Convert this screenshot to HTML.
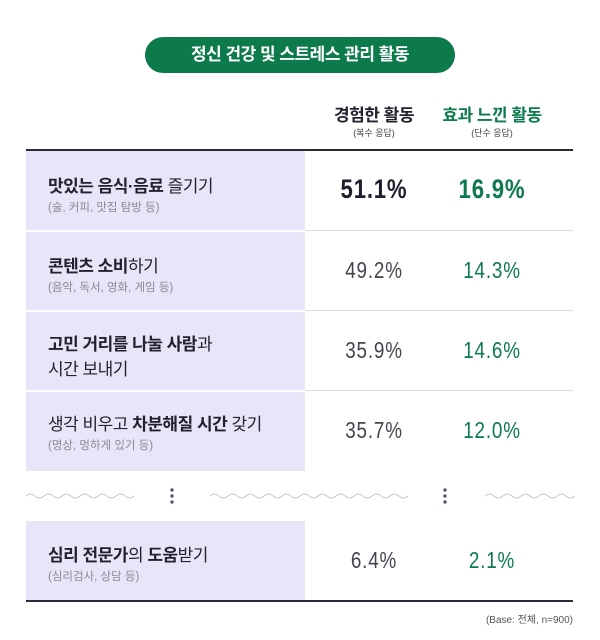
<!DOCTYPE html>
<html><head><meta charset="utf-8">
<style>
body{margin:0;background:#fff;}
#wrap{position:relative;width:600px;height:640px;overflow:hidden;font-family:"Liberation Sans","Noto Sans CJK KR",sans-serif;color:#22222e;}
.abs{position:absolute;}
.pill{left:145px;top:37px;width:310px;height:36px;border-radius:18px;background:#0c7a4a;color:#fff;font-weight:bold;font-size:17px;line-height:36px;text-align:center;letter-spacing:-0.5px;}
.hdr{font-weight:bold;font-size:17px;width:140px;text-align:center;letter-spacing:-0.5px;}
.sub{font-size:9px;width:140px;text-align:center;color:#444;}
.lav{left:26px;width:279px;background:#e7e5f8;}
.sep{left:305px;width:268px;height:1px;background:#dcdce0;}
.lbl{left:48px;font-size:17px;letter-spacing:-0.5px;white-space:nowrap;}
.lbl b{font-weight:bold;}
.note{left:48px;font-size:11.5px;color:#8a8a96;white-space:nowrap;}
.val{width:140px;text-align:center;font-size:23px;letter-spacing:1px;transform:scaleX(0.82);font-family:"Liberation Sans Narrow","Liberation Sans",sans-serif;}
</style></head><body>
<div id="wrap">
<div class="abs pill">정신 건강 및 스트레스 관리 활동</div>
<div class="abs hdr" style="left:304px;top:101px;">경험한 활동</div>
<div class="abs sub" style="left:304px;top:126px;">(복수 응답)</div>
<div class="abs hdr" style="left:422px;top:101px;color:#0c7a4a;">효과 느낀 활동</div>
<div class="abs sub" style="left:422px;top:126px;">(단수 응답)</div>
<div class="abs" style="left:26px;top:149px;width:547px;height:2px;background:#2a2a38;"></div>

<div class="abs lav" style="top:151px;height:79px;"></div>
<div class="abs lav" style="top:232px;height:78px;"></div>
<div class="abs lav" style="top:312px;height:78px;"></div>
<div class="abs lav" style="top:392px;height:79px;"></div>
<div class="abs sep" style="top:230px;"></div>
<div class="abs sep" style="top:310px;"></div>
<div class="abs sep" style="top:390px;"></div>

<div class="abs lbl" style="top:172px;"><b>맛있는 음식·음료</b> 즐기기</div>
<div class="abs note" style="top:199px;">(술, 커피, 맛집 탐방 등)</div>
<div class="abs lbl" style="top:252px;"><b>콘텐츠 소비</b>하기</div>
<div class="abs note" style="top:279px;">(음악, 독서, 영화, 게임 등)</div>
<div class="abs lbl" style="top:330px;"><b>고민 거리를 나눌 사람</b>과</div>
<div class="abs lbl" style="top:355px;">시간 보내기</div>
<div class="abs lbl" style="top:410px;">생각 비우고 <b>차분해질 시간</b> 갖기</div>
<div class="abs note" style="top:437px;">(명상, 멍하게 있기 등)</div>

<svg class="abs" style="left:0;top:480px;" width="600" height="32">
<path d="M26 16 q4.5 -4 9 0 t9 0 t9 0 t9 0 t9 0 t9 0 t9 0 t9 0 t9 0 t9 0 t9 0 t9 0" fill="none" stroke="#c8c8cc" stroke-width="1"/>
<path d="M210 16 q4.5 -4 9 0 t9 0 t9 0 t9 0 t9 0 t9 0 t9 0 t9 0 t9 0 t9 0 t9 0 t9 0 t9 0 t9 0 t9 0 t9 0 t9 0 t9 0 t9 0 t9 0 t9 0 t9 0" fill="none" stroke="#c8c8cc" stroke-width="1"/>
<path d="M485 16 q4.5 -4 9 0 t9 0 t9 0 t9 0 t9 0 t9 0 t9 0 t9 0 t9 0 t9 0" fill="none" stroke="#c8c8cc" stroke-width="1"/>
<g fill="#555a6a"><circle cx="172" cy="10" r="1.7"/><circle cx="172" cy="16" r="1.7"/><circle cx="172" cy="22" r="1.7"/></g>
<g fill="#555a6a"><circle cx="445" cy="10" r="1.7"/><circle cx="445" cy="16" r="1.7"/><circle cx="445" cy="22" r="1.7"/></g>
</svg>

<div class="abs lav" style="top:521px;height:79px;"></div>
<div class="abs lbl" style="top:541px;"><b>심리 전문가</b>의 <b>도움</b>받기</div>
<div class="abs note" style="top:568px;">(심리검사, 상담 등)</div>
<div class="abs" style="left:26px;top:600px;width:547px;height:2px;background:#2a2a38;"></div>
<div class="abs" style="right:27px;top:611px;font-size:10px;color:#555;">(Base: 전체, n=900)</div>
</div>
<script>
const categories = ["맛있는 음식·음료 즐기기","콘텐츠 소비하기","고민 거리를 나눌 사람과 시간 보내기","생각 비우고 차분해질 시간 갖기","심리 전문가의 도움받기"];
const experienced = [51.1, 49.2, 35.9, 35.7, 6.4];
const effective = [16.9, 14.3, 14.6, 12.0, 2.1];
const rowTops = [151, 231, 311, 391, 521];
const wrap = document.getElementById('wrap');
function addVal(v, left, top, i, color, bold, name){
  const d = document.createElement('div');
  d.className = 'abs val';
  d.style.left = left + 'px';
  d.style.top = top + 'px';
  d.style.color = color;
  if (bold){ d.style.fontWeight = 'bold'; d.style.fontSize = '27px'; }
  d.textContent = v.toFixed(1) + '%';
  
  
  wrap.appendChild(d);
}
categories.forEach((c, i) => {
  const top = rowTops[i] + (i === 0 ? 23 : 26);
  addVal(experienced[i], 304, top, i, i === 0 ? '#1e1e2c' : '#44444e', i === 0, 'value-experienced');
  addVal(effective[i], 422, top, i, '#0c7a4a', i === 0, 'value-effective');
});
</script>
</body></html>
